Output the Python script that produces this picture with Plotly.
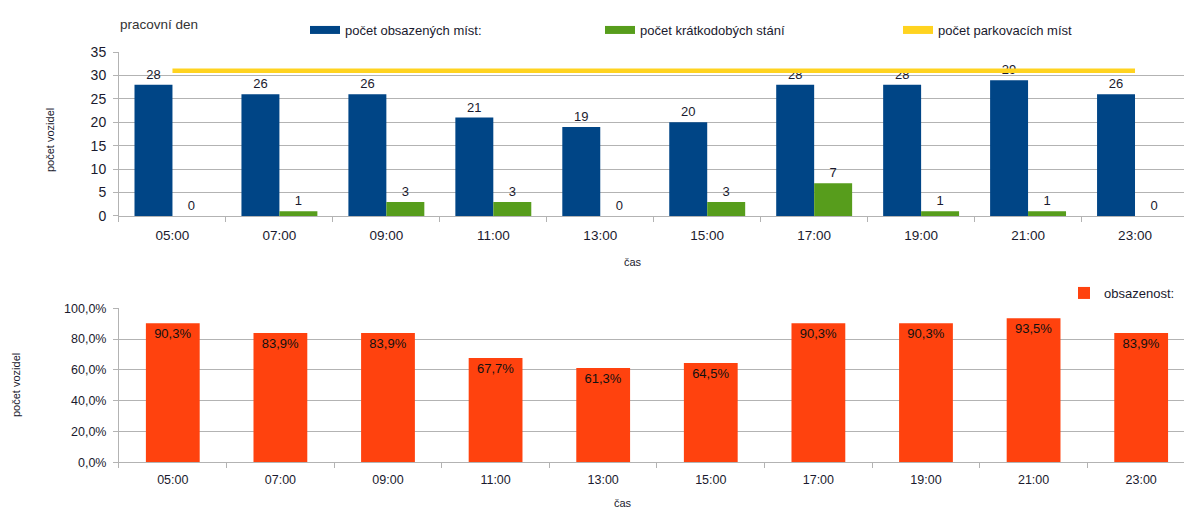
import plotly.graph_objects as go

# data
hours = ["05:00", "07:00", "09:00", "11:00", "13:00", "15:00", "17:00", "19:00", "21:00", "23:00"]
occupied = [28, 26, 26, 21, 19, 20, 28, 28, 29, 26]
short_stays = [0, 1, 3, 3, 0, 3, 7, 1, 1, 0]
capacity = [31, 31, 31, 31, 31, 31, 31, 31, 31, 31]
occupancy = [0.903, 0.839, 0.839, 0.677, 0.613, 0.645, 0.903, 0.903, 0.935, 0.839]

BLUE = "#004586"
GREEN = "#579d1c"
YELLOW = "#ffd320"
RED = "#ff420e"
GRID = "#b3b3b3"
TEXT = "#1a1a2e"
FONT = "Liberation Sans, Arial, sans-serif"

fig = go.Figure()

# ── top chart ──────────────────────────────────────────────
fig.add_trace(go.Bar(
    x=hours, y=occupied, marker_color=BLUE, marker_line_width=0,
    text=occupied, textposition="outside", cliponaxis=False,
    textfont=dict(size=13, color=TEXT), showlegend=False,
    xaxis="x", yaxis="y",
))
fig.add_trace(go.Bar(
    x=hours, y=short_stays, marker_color=GREEN, marker_line_width=0,
    text=short_stays, textposition="outside", cliponaxis=False,
    textfont=dict(size=13, color=TEXT), showlegend=False,
    xaxis="x", yaxis="y",
))
fig.add_trace(go.Scatter(
    x=hours, y=capacity, mode="lines", line=dict(color=YELLOW, width=4.5),
    showlegend=False, xaxis="x", yaxis="y",
))

# legend entries drawn as thick lines (like the original)
for name, col, lg in [("počet obsazených míst:", BLUE, "legend"),
                      ("počet krátkodobých stání", GREEN, "legend2"),
                      ("počet parkovacích míst", YELLOW, "legend3")]:
    fig.add_trace(go.Scatter(
        x=[None], y=[None], mode="lines", name=name,
        line=dict(color=col, width=8), legend=lg,
        xaxis="x", yaxis="y",
    ))

# ── bottom chart ───────────────────────────────────────────
fig.add_trace(go.Bar(
    x=hours, y=occupancy, name="obsazenost:", marker_color=RED, marker_line_width=0,
    width=0.5,
    texttemplate="%{y:.1%}", textposition="inside", insidetextanchor="end",
    textfont=dict(size=13, color="#111111"), legend="legend4",
    xaxis="x2", yaxis="y2",
))

axis_common = dict(
    showline=True, linecolor=GRID, linewidth=1,
    ticks="outside", tickcolor=GRID, ticklen=5,
)

legend_common = dict(
    orientation="h", yanchor="middle", xanchor="left",
    font=dict(size=13, color=TEXT, family=FONT),
    bgcolor="rgba(0,0,0,0)", itemwidth=30,
)

fig.update_layout(
    width=1184, height=511,
    margin=dict(l=0, r=0, t=0, b=0, autoexpand=False),
    paper_bgcolor="white", plot_bgcolor="white",
    font=dict(family=FONT, color=TEXT, size=13),
    separators=", ",
    barmode="group",
    bargap=0.29, bargroupgap=0,
    xaxis=dict(domain=[0.1005, 1], anchor="y", range=[-0.5, 9.458],
               tickson="boundaries", showgrid=False, ticklabelstandoff=7,
               tickfont=dict(size=13.5, color=TEXT), **axis_common),
    yaxis=dict(domain=[0.5773, 0.8982], anchor="x", range=[0, 35], dtick=5,
               showgrid=True, gridcolor=GRID, zeroline=False, ticklabelstandoff=4,
               tickfont=dict(size=14, color=TEXT), **axis_common),
    xaxis2=dict(domain=[0.1005, 1], anchor="y2", range=[-0.5, 9.398],
                tickson="boundaries", showgrid=False, ticklabelstandoff=6,
                tickfont=dict(size=12.5, color=TEXT), **axis_common),
    yaxis2=dict(domain=[0.0953, 0.3967], anchor="x2", range=[0, 1], dtick=0.2,
                tickformat=".1%", showgrid=True, gridcolor=GRID, zeroline=False,
                ticklabelstandoff=4,
                tickfont=dict(size=12.5, color=TEXT), **axis_common),
    legend=dict(x=305 / 1184, y=1 - 30 / 511, **legend_common),
    legend2=dict(x=600 / 1184, y=1 - 30 / 511, **legend_common),
    legend3=dict(x=898 / 1184, y=1 - 30 / 511, **legend_common),
    legend4=dict(x=1064 / 1184, y=1 - 293 / 511, orientation="h", yanchor="middle",
                 xanchor="left", itemwidth=30, bgcolor="rgba(0,0,0,0)",
                 font=dict(size=13, color=TEXT, family=FONT)),
)

annotations = [
    dict(text="pracovní den", x=118 / 1184, y=1 - 25 / 511, xanchor="left", yanchor="middle",
         font=dict(size=13.5, color="#333333")),
    dict(text="počet vozidel", x=50 / 1184, y=1 - 140 / 511, textangle=-90,
         xanchor="center", yanchor="middle", font=dict(size=11, color=TEXT)),
    dict(text="čas", x=633 / 1184, y=1 - 262 / 511, xanchor="center", yanchor="middle",
         font=dict(size=11, color=TEXT)),
    dict(text="počet vozidel", x=16 / 1184, y=1 - 385 / 511, textangle=-90,
         xanchor="center", yanchor="middle", font=dict(size=11, color=TEXT)),
    dict(text="čas", x=623 / 1184, y=1 - 503 / 511, xanchor="center", yanchor="middle",
         font=dict(size=11, color=TEXT)),
]
for a in annotations:
    fig.add_annotation(xref="paper", yref="paper", showarrow=False, **a)

# page body has a default 8px margin; drop it so the figure fills the window
fig.write_html("out.html", config={"displayModeBar": False},
               post_script="document.body.style.margin='0';")
